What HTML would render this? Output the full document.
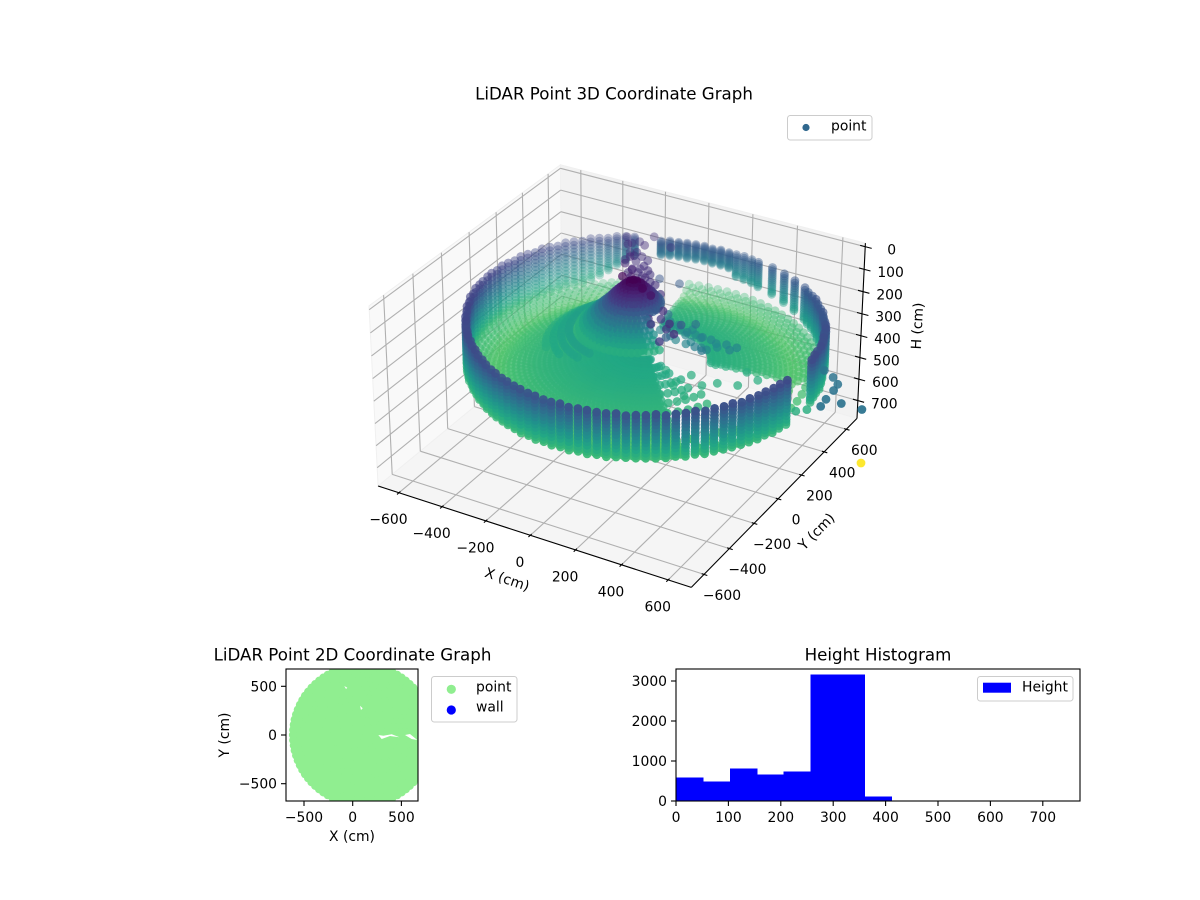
<!DOCTYPE html>
<html lang="en">
<head>
<meta charset="utf-8">
<title>LiDAR Point Graphs</title>
<style>
html,body{margin:0;padding:0;background:#fff;width:1200px;height:900px;overflow:hidden}
svg{display:block}
text{font-family:"DejaVu Sans","Liberation Sans",sans-serif;font-size:13.9px;fill:#000}
.ttl{font-size:16.67px}
</style>
</head>
<body>
<svg id="fig" xmlns="http://www.w3.org/2000/svg" width="1200" height="900" viewBox="0 0 1200 900">
  <defs><clipPath id="clip2d"><rect x="286" y="669" width="132" height="132"/></clipPath></defs>
  <g id="g3dAxes"></g>
  <g id="g3dPoints"></g>
  <text class="ttl" x="614" y="94" dominant-baseline="central" text-anchor="middle">LiDAR Point 3D Coordinate Graph</text>
  <text x="507" y="580" text-anchor="middle" dominant-baseline="central" transform="rotate(18.5 507 580)">X (cm)</text>
  <text x="817" y="532" text-anchor="middle" dominant-baseline="central" transform="rotate(-45.5 817 532)">Y (cm)</text>
  <text x="918" y="326" text-anchor="middle" dominant-baseline="central" transform="rotate(-87 918 326)">H (cm)</text>
  <g>
    <rect x="787.5" y="115.5" width="84.5" height="24.5" rx="2.8" fill="#fff" fill-opacity=".8" stroke="#ccc"/>
    <circle cx="806" cy="127.5" r="3.6" fill="#31688e"/>
    <text x="831" y="126.5" dominant-baseline="central">point</text>
  </g>

  <g id="g2d">
    <g id="g2dPoints" clip-path="url(#clip2d)"></g>
    <rect x="286" y="669" width="132" height="132" fill="none" stroke="#000" stroke-width="1.1"/>
    <g id="g2dTicks"></g>
  </g>
  <text class="ttl" x="352.5" y="655" text-anchor="middle" dominant-baseline="central">LiDAR Point 2D Coordinate Graph</text>
  <text x="352" y="837" text-anchor="middle" dominant-baseline="central">X (cm)</text>
  <text x="225" y="735" text-anchor="middle" dominant-baseline="central" transform="rotate(-90 225 735)">Y (cm)</text>
  <g>
    <rect x="431.5" y="676.5" width="85.5" height="45.5" rx="2.8" fill="#fff" fill-opacity=".8" stroke="#ccc"/>
    <circle cx="451.3" cy="689.3" r="4.6" fill="#90ee90"/>
    <circle cx="451.3" cy="710" r="4.6" fill="#0000ff"/>
    <text x="476" y="687.5" dominant-baseline="central">point</text>
    <text x="476" y="707.5" dominant-baseline="central">wall</text>
  </g>

  <g id="gHist" shape-rendering="crispEdges"></g>
  <rect x="676" y="669" width="404" height="132" fill="none" stroke="#000" stroke-width="1.1"/>
  <g id="gHistTicks"></g>
  <text class="ttl" x="878" y="655" text-anchor="middle" dominant-baseline="central">Height Histogram</text>
  <g>
    <rect x="977.5" y="676.5" width="95.5" height="24.5" rx="2.8" fill="#fff" fill-opacity=".8" stroke="#ccc"/>
    <rect x="983" y="682.7" width="28" height="10" fill="#0000ff"/>
    <text x="1022" y="687.5" dominant-baseline="central">Height</text>
  </g>
</svg>

<script>
// ---------- data ----------
const xTicks3d = [-600,-400,-200,0,200,400,600];
const yTicks3d = [-600,-400,-200,0,200,400,600];
const hTicks3d = [0,100,200,300,400,500,600,700];

const scanCenterX = 100;
const scanCenterY = 0;

// wall columns: azimuth (deg), horizontal range (0 = no return), top and bottom height (cm)
const wallAzimuths = [0,3,6,9,12,15,18,21,24,27,30,33,36,39,42,45,48,51,54,57,60,63,66,69,72,75,78,81,84,87,90,93,96,99,102,105,108,111,114,117,120,123,126,129,132,135,138,141,144,147,150,153,156,159,162,165,168,171,174,177,180,183,186,189,192,195,198,201,204,207,210,213,216,219,222,225,228,231,234,237,240,243,246,249,252,255,258,261,264,267,270,273,276,279,282,285,288,291,294,297,300,303,306,309,312,315,318,321,324,327,330,333,336,339,342,345,348,351,354,357];
const wallRange = [0,703,700,698,701,699,697,695,699,698,
  696,694,697,695,693,696,694,692,695,0,691,0,692,0,693,0,689,692,690,688,691,689,687,690,688,686,689,687,685,
  0,0,
  688,690,692,690,692,694,691,693,695,692,694,696,693,695,697,694,696,698,695,697,694,696,693,695,692,694,
  690,692,689,691,688,690,688,690,687,689,688,690,688,
  691,689,692,690,693,691,694,692,695,693,696,694,697,695,698,696,699,697,700,698,701,699,702,700,703,701,704,702,705,703,706,
  704,707,705,708,706,709,0,0,0];
const wallTop = [150,152,150,154,152,156,154,158,156,160,
  166,168,165,170,168,166,170,172,170,174,172,176,174,178,176,174,178,180,176,178,180,176,178,174,172,170,172,168,170,
  160,160,
  155,152,150,154,150,148,152,148,146,150,146,144,148,144,142,146,142,140,144,140,138,142,138,136,140,136,
  140,138,142,144,142,146,148,146,150,152,150,154,156,
  158,162,160,164,162,166,164,168,166,170,168,166,170,168,166,170,168,166,170,168,166,164,168,166,164,162,166,164,162,160,164,
  160,158,156,154,152,150,150,150,150];
const wallBottom = [340,338,336,338,340,336,334,330,326,322,
  338,334,330,326,322,318,316,314,312,310,308,306,304,302,298,294,290,286,282,278,250,246,244,242,240,240,238,236,234,
  230,230,
  240,262,280,300,320,336,342,344,346,348,350,352,350,352,354,352,354,356,354,356,354,356,358,356,358,356,
  356,354,352,350,350,348,348,346,346,346,346,348,348,
  350,352,350,352,350,352,354,352,354,352,354,352,354,352,354,352,354,352,350,352,350,352,350,348,350,348,350,348,346,348,346,
  348,346,344,346,344,342,342,342,340];
const wallRows = [0,0.08,0.16,0.24,0.32,0.4,0.48,0.56,0.64,0.72,0.8,0.88,0.94,1];

// floor rows: radius from the scan centre and height of each row
const floorRadii = [40,60,80,100,120,140,160,180,200,220,240,260,280,300,320,340,360,380,400,420,440,460,480,500,520,540,560,580,600,620,640,660,680];
const floorHeights = [315,316,317,318,319,320,321,322,323,325,326,327,329,331,333,335,337,340,342,345,348,351,354,358,362,366,370,372,370,366,362,358,354];
// floor sectors: azimuth span, azimuth step, radial span and row stride of returns
const sectorStart = [125,312,300,20,345];
const sectorEnd = [312,340,350,105,380];
const sectorStep = [3,6,6,3.5,5];
const sectorMinR = [40,40,530,260,560];
const sectorMaxR = [700,400,700,700,700];
const sectorStride = [1,3,2,1,3];

// scanner core and teal wing: each row's height, radius, azimuth step, azimuth span and viridis tone
const coneCenterX = 50;
const coneHeights = [5,15,25,35,45,55,65,75,85,95,110,125,140,155,170,185,200,215,235,255,275];
const coneRadii = [15,30,40,50,60,70,80,85,95,105,120,135,150,165,180,195,210,250,280,310,340];
const coneSteps = [60,36,24,20,16,14,12,12,10,10,9,8,8,7,7,6,6,5,5,5,5];
const coneStart = [0,0,0,0,0,0,0,0,0,0,100,100,100,100,100,100,100,130,130,130,130];
const coneEnd = [359,359,359,359,359,359,359,359,359,359,330,330,330,330,330,330,330,260,250,235,215];
const coneTones = [0,0.03,0.06,0.09,0.12,0.15,0.18,0.21,0.25,0.29,0.34,0.39,0.44,0.49,0.54,0.58,0.62,0.56,0.58,0.6,0.62];

// individually read returns: pole, arm, stray points and outliers
const strayX = [-12,102,34,130, -250,-194,-155,-142,-196,-140,-81,-126,-69,-120,-20,-65,-5,-25,-70,55,112,107,231,211,243,345,
  -205,-149,-173,-113,-114,-67,-96,-60,-34,-94,-31,-42,20,-159,34,49,104,117,178,249,302,
  66,129,185,241,86,171,257,-30,40,150,
  97,179,249,320,390,260,342,201,130,220,290,360,420,300,137,216,278,352,169,251,317,111,153,219,436,
  319,215,392,435,511,559,494,297,370,
  828,880,918,925,992,929,935,1077,
  821,790,760,871];
const strayY = [22,-21,4,-6, 472,477,526,426,386,336,343,281,260,231,254,190,189,340,512,359,166,73,54,-29,150,12,
  433,375,363,353,307,288,244,229,262,210,210,167,184,298,121,173,117,32,5,-71,-132,
  89,35,-23,-81,-8,-77,-163,120,60,-60,
  168,144,140,135,131,82,57,67,150,125,120,110,100,40,139,119,129,118,83,58,61,105,173,169,129,
  -20,-36,-69,-25,-1,73,106,-123,-171,
  96,65,28,-21,-92,-93,-149,-93,
  -29,-60,-100,377];
const strayH = [8,10,6,40, 100,110,100,90,80,95,105,70,100,75,110,70,90,170,120,180,210,140,170,190,210,230,
  100,100,100,100,100,100,100,100,100,100,100,100,100,100,100,100,100,100,100,100,100,
  120,120,120,120,90,120,130,60,70,110,
  250,250,250,250,250,250,250,250,230,240,240,260,250,240,250,250,250,250,250,250,250,250,250,250,250,
  330,330,330,330,330,330,330,330,330,
  220,220,220,220,220,220,220,220,
  330,330,330,770];

// colour scale: height anchors and their viridis positions
const colorHeights = [0,140,250,356,380,520,770];
const colorPositions = [0,0.2,0.45,0.68,0.74,0.85,1];
const viridisStops = ['#440154','#482475','#414487','#355f8d','#2a788e','#21918c','#22a884','#44bf70','#7ad151','#bddf26','#fde725'];

// 2D coverage rings
const coverRadii = [0,45,90,135,180,225,270,315,360,405,450,495,540,585,630,675,712];
const coverCounts = [1,6,12,16,22,28,32,38,42,48,54,60,64,70,76,80,84];
// white notches in the 2D cloud (x,y pairs in cm)
const gapA = [263,0,298,-41,383,-10,480,-24,400,7,314,-7];
const gapB = [537,0,588,10,663,-51,605,-41];
const gapC = [-86,503,-55,486,-69,472];
const gapD = [75,301,103,274,85,257];
const gapShapes = [gapA,gapB,gapC,gapD];
const xTicks2d = [-500,0,500];
const yTicks2d = [-500,0,500];

// histogram
const histBinWidth = 51.4;
const histCounts = [583,483,808,658,733,3158,3158,108,6,3,2,2,1,1,1];
const histXTicks = [0,100,200,300,400,500,600,700];
const histYTicks = [0,1000,2000,3000];

// ---------- helpers ----------
const NS = 'http://www.w3.org/2000/svg';
function mk(parent, tag, attrs){
  const el = document.createElementNS(NS, tag);
  for (const k in attrs) el.setAttribute(k, attrs[k]);
  parent.appendChild(el);
  return el;
}
function fmt(v){ return String(v).replace('-', '\u2212'); }

// ---------- 3D projection (elev 30, azim -60, inverted H axis) ----------
const halfXY = 0.6245, halfZ = 0.359;
const paneX = [-698,698], paneY = [-698,698], paneH = [-16,784];
const uVec = [0.8660,0.5,0], vVec = [-0.25,0.4330,0.8660], wVec = [0.4330,-0.75,0.5];
const scale3d = 2856, originX = 622.2, originY = 364.3;
function xAxis3d(v){ return -halfXY + 2*halfXY*(v-paneX[0])/(paneX[1]-paneX[0]); }
function yAxis3d(v){ return -halfXY + 2*halfXY*(v-paneY[0])/(paneY[1]-paneY[0]); }
function hAxis3d(v){ return halfZ - 2*halfZ*(v-paneH[0])/(paneH[1]-paneH[0]); }
function project(x,y,h){
  const a = xAxis3d(x), b = yAxis3d(y), c = hAxis3d(h);
  const d = 10 - (wVec[0]*a + wVec[1]*b + wVec[2]*c);
  return {
    x: originX + scale3d*(uVec[0]*a + uVec[1]*b)/d,
    y: originY - scale3d*(vVec[0]*a + vVec[1]*b + vVec[2]*c)/d,
    d: d
  };
}
function hex2rgb(s){ return [parseInt(s.slice(1,3),16),parseInt(s.slice(3,5),16),parseInt(s.slice(5,7),16)]; }
function colorAtTone(pos){
  const t = pos*(viridisStops.length-1);
  const i = Math.min(viridisStops.length-2,Math.floor(t)), f = t-i;
  const a = hex2rgb(viridisStops[i]), b = hex2rgb(viridisStops[i+1]);
  return 'rgb('+Math.round(a[0]+(b[0]-a[0])*f)+','+Math.round(a[1]+(b[1]-a[1])*f)+','+Math.round(a[2]+(b[2]-a[2])*f)+')';
}
function colorOf(h){
  let pos = 1;
  for (let i=0;i<colorHeights.length-1;i++){
    if (h<=colorHeights[i+1]){
      pos = colorPositions[i]+(colorPositions[i+1]-colorPositions[i])*(Math.max(h,colorHeights[i])-colorHeights[i])/(colorHeights[i+1]-colorHeights[i]);
      break;
    }
  }
  return colorAtTone(pos);
}

// ---------- 3D axes ----------
const g3 = document.getElementById('g3dAxes');
const X0=paneX[0],X1=paneX[1],Y0=paneY[0],Y1=paneY[1],H0=paneH[0],H1=paneH[1];
function poly(pts,fill){
  const el = mk(g3,'polygon',{points:pts.map(p=>{const q=project(p[0],p[1],p[2]);return q.x.toFixed(1)+','+q.y.toFixed(1);}).join(' '),fill:fill,stroke:'#f0f0f0','stroke-width':'1'});
  return el;
}
function seg(a,b,color,w,parent){
  const p=project(a[0],a[1],a[2]), q=project(b[0],b[1],b[2]);
  return mk(parent||g3,'line',{x1:p.x.toFixed(1),y1:p.y.toFixed(1),x2:q.x.toFixed(1),y2:q.y.toFixed(1),stroke:color,'stroke-width':w});
}
const pane1 = poly([[X0,Y0,H1],[X0,Y1,H1],[X0,Y1,H0],[X0,Y0,H0]],'#f9f9f9');


const pane2 = poly([[X0,Y1,H1],[X1,Y1,H1],[X1,Y1,H0],[X0,Y1,H0]],'#f2f2f2');


const pane3 = poly([[X0,Y0,H1],[X1,Y0,H1],[X1,Y1,H1],[X0,Y1,H1]],'#f5f5f5');



const gridColor = '#b0b0b0';
xTicks3d.forEach(v=>{
  const l1 = seg([v,Y0,H1],[v,Y1,H1],gridColor,1.1);
  
  
  const l2 = seg([v,Y1,H1],[v,Y1,H0],gridColor,1.1);
  
  
});
yTicks3d.forEach(v=>{
  const l1 = seg([X1,v,H1],[X0,v,H1],gridColor,1.1);
  
  
  const l2 = seg([X0,v,H1],[X0,v,H0],gridColor,1.1);
  
  
});
hTicks3d.forEach(v=>{
  const l1 = seg([X0,Y0,v],[X0,Y1,v],gridColor,1.1);
  
  
  const l2 = seg([X0,Y1,v],[X1,Y1,v],gridColor,1.1);
  
  
});
const axX = seg([X0,Y0,H1],[X1,Y0,H1],'#000',1.1);


const axY = seg([X1,Y0,H1],[X1,Y1,H1],'#000',1.1);


const axH = seg([X1,Y1,H1],[X1,Y1,H0],'#000',1.1);



xTicks3d.forEach(v=>{
  const t = seg([v,Y0-14,H1],[v,Y0+10,H1],'#000',1.1);
  
  
  const p = project(v,Y0,H1);
  const lab = mk(g3,'text',{x:(p.x-10.5).toFixed(1),y:(p.y+27.5).toFixed(1),'text-anchor':'middle','dominant-baseline':'central'});
  lab.textContent = fmt(v);
  
  
});
yTicks3d.forEach(v=>{
  const t = seg([X1-10,v,H1],[X1+14,v,H1],'#000',1.1);
  
  
  const p = project(X1,v,H1);
  const lab = mk(g3,'text',{x:(p.x+18).toFixed(1),y:(p.y+21.5).toFixed(1),'text-anchor':'middle','dominant-baseline':'central'});
  lab.textContent = fmt(v);
  
  
});
hTicks3d.forEach(v=>{
  const t = seg([X1-22,Y1,v],[X1+28,Y1,v],'#000',1.1);
  
  
  const p = project(X1,Y1,v);
  const lab = mk(g3,'text',{x:(p.x+26.5).toFixed(1),y:(p.y+3.8).toFixed(1),'text-anchor':'middle','dominant-baseline':'central'});
  lab.textContent = fmt(v);
  
  
});

// ---------- 3D points ----------
const cloud = [];
function addPolar(az,r,h){
  const a = az*Math.PI/180;
  cloud.push({x:scanCenterX+r*Math.cos(a),y:scanCenterY+r*Math.sin(a),h:h});
}
wallAzimuths.forEach((az,i)=>{
  if (!wallRange[i]) return;
  wallRows.forEach(f=>addPolar(az,wallRange[i],wallTop[i]+(wallBottom[i]-wallTop[i])*f));
});
sectorStart.forEach((start,s)=>{
  floorRadii.forEach((r,k)=>{
    if (r<sectorMinR[s]||r>sectorMaxR[s]||k%sectorStride[s]) return;
    for (let az=start+(k%2)*sectorStep[s]/2; az<sectorEnd[s]; az+=sectorStep[s]) addPolar(az,r,floorHeights[k]);
  });
});
coneHeights.forEach((h,k)=>{
  for (let az=coneStart[k]+(k%2)*coneSteps[k]/2; az<=coneEnd[k]; az+=coneSteps[k]){
    const a = az*Math.PI/180;
    cloud.push({x:coneCenterX+coneRadii[k]*Math.cos(a),y:scanCenterY+coneRadii[k]*Math.sin(a),h:h,tone:coneTones[k]});
  }
});
strayX.forEach((x,i)=>cloud.push({x:x,y:strayY[i],h:strayH[i]}));

cloud.forEach(p=>{ const q=project(p.x,p.y,p.h); p.px=q.x; p.py=q.y; p.d=q.d; });
cloud.sort((a,b)=>b.d-a.d);
let dMin=Infinity,dMax=-Infinity;
cloud.forEach(p=>{ if(p.d<dMin)dMin=p.d; if(p.d>dMax)dMax=p.d; });
const gp = document.getElementById('g3dPoints');
const frag = document.createDocumentFragment();
cloud.forEach(p=>{
  const shade = 1-0.72*Math.pow((p.d-dMin)/(dMax-dMin),1.1);
  const alpha = p.h>600 ? 0.95 : shade;
  const c = document.createElementNS(NS,'circle');
  c.setAttribute('cx',p.px.toFixed(1));
  c.setAttribute('cy',p.py.toFixed(1));
  c.setAttribute('r','4.4');
  c.setAttribute('fill',p.tone===undefined?colorOf(p.h):colorAtTone(p.tone));
  c.setAttribute('fill-opacity',alpha.toFixed(2));
  
  
  frag.appendChild(c);
});
gp.appendChild(frag);

// ---------- 2D chart ----------
function x2d(v){ return 352.7 + v*0.0974; }
function y2d(v){ return 735 - v*0.0974; }
const g2 = document.getElementById('g2dPoints');
const frag2 = document.createDocumentFragment();
coverRadii.forEach((r,k)=>{
  for (let i=0;i<coverCounts[k];i++){
    const a = 2*Math.PI*i/coverCounts[k];
    const c = document.createElementNS(NS,'circle');
    c.setAttribute('cx',x2d(scanCenterX+r*Math.cos(a)).toFixed(1));
    c.setAttribute('cy',y2d(scanCenterY+r*Math.sin(a)).toFixed(1));
    c.setAttribute('r','4.2');
    c.setAttribute('fill','#90ee90');
    
    
    frag2.appendChild(c);
  }
});
g2.appendChild(frag2);
gapShapes.forEach(g=>{
  const pts=[];
  for(let i=0;i<g.length;i+=2) pts.push(x2d(g[i]).toFixed(1)+','+y2d(g[i+1]).toFixed(1));
  const el = mk(g2,'polygon',{points:pts.join(' '),fill:'#fff'});
  
  
});
const gt2 = document.getElementById('g2dTicks');
xTicks2d.forEach(v=>{
  const t = mk(gt2,'line',{x1:x2d(v),x2:x2d(v),y1:801,y2:806,stroke:'#000','stroke-width':1.1});
  
  
  const l = mk(gt2,'text',{x:x2d(v),y:818,'text-anchor':'middle','dominant-baseline':'central'});
  l.textContent = fmt(v);
  
  
});
yTicks2d.forEach(v=>{
  const t = mk(gt2,'line',{x1:281,x2:286,y1:y2d(v),y2:y2d(v),stroke:'#000','stroke-width':1.1});
  
  
  const l = mk(gt2,'text',{x:277,y:y2d(v)+1,'text-anchor':'end','dominant-baseline':'central'});
  l.textContent = fmt(v);
  
  
});

// ---------- histogram ----------
function xHist(v){ return 676 + v*(404/771); }
function yHist(v){ return 801 - v*0.04; }
const gh = document.getElementById('gHist');
histCounts.forEach((n,i)=>{
  const x0 = xHist(i*histBinWidth), x1 = xHist((i+1)*histBinWidth);
  const r = mk(gh,'rect',{x:x0.toFixed(2),y:yHist(n).toFixed(2),width:(x1-x0+0.6).toFixed(2),height:(801-yHist(n)).toFixed(2),fill:'#0000ff'});
  
  
});
const ght = document.getElementById('gHistTicks');
histXTicks.forEach(v=>{
  const t = mk(ght,'line',{x1:xHist(v),x2:xHist(v),y1:801,y2:806,stroke:'#000','stroke-width':1.1});
  
  
  const l = mk(ght,'text',{x:xHist(v),y:818,'text-anchor':'middle','dominant-baseline':'central'});
  l.textContent = fmt(v);
  
  
});
histYTicks.forEach(v=>{
  const t = mk(ght,'line',{x1:671,x2:676,y1:yHist(v),y2:yHist(v),stroke:'#000','stroke-width':1.1});
  
  
  const l = mk(ght,'text',{x:667,y:yHist(v)+1,'text-anchor':'end','dominant-baseline':'central'});
  l.textContent = fmt(v);
  
  
});
</script>
</body>
</html>
